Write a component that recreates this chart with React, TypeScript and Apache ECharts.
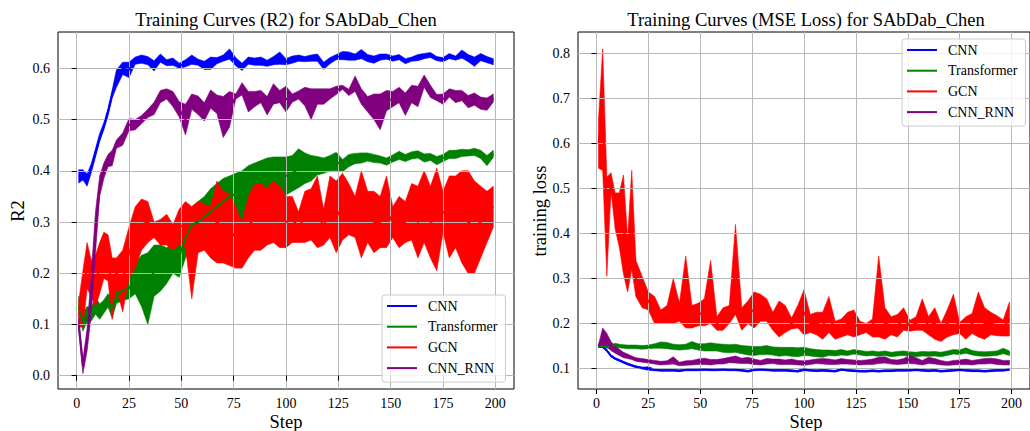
import React, { useEffect, useRef } from "react";
import * as echarts from "echarts";

// Training steps at which values were read
const steps = [1, 3, 5, 7, 9, 11, 13, 15, 17, 19,
  22, 25, 28, 31, 34, 37, 40, 43, 46, 49,
  52, 55, 58, 61, 64, 67, 70, 73, 76, 79,
  82, 85, 88, 91, 94, 97, 100, 103, 106, 109,
  112, 115, 118, 121, 124, 127, 130, 133, 136, 139,
  142, 145, 148, 151, 154, 157, 160, 163, 166, 169,
  172, 175, 178, 181, 184, 187, 190, 193, 196, 199];

const models = ["CNN", "Transformer", "GCN", "CNN_RNN"];
const colors = ["#0000ff", "#008000", "#ff0000", "#800080"];

const xTicks = [0, 25, 50, 75, 100, 125, 150, 175, 200];
const r2Ticks = [0, 0.1, 0.2, 0.3, 0.4, 0.5, 0.6];
const lossTicks = [0.1, 0.2, 0.3, 0.4, 0.5, 0.6, 0.7, 0.8];

// ---------- R2 (mean, std) ----------
const r2CnnMean = [0.389, 0.392, 0.382, 0.405, 0.435, 0.465, 0.487, 0.515, 0.55, 0.58,
  0.6, 0.597, 0.615, 0.618, 0.615, 0.605, 0.62, 0.611, 0.613, 0.605,
  0.61, 0.617, 0.612, 0.606, 0.61, 0.615, 0.62, 0.628, 0.613, 0.603,
  0.615, 0.613, 0.614, 0.61, 0.615, 0.62, 0.613, 0.617, 0.62, 0.618,
  0.62, 0.621, 0.605, 0.615, 0.622, 0.625, 0.624, 0.622, 0.628, 0.62,
  0.617, 0.622, 0.623, 0.619, 0.622, 0.614, 0.618, 0.621, 0.624, 0.626,
  0.619, 0.617, 0.624, 0.62, 0.628, 0.62, 0.613, 0.622, 0.617, 0.613];
const r2CnnStd = [0.013, 0.01, 0.012, 0.009, 0.008, 0.008, 0.007, 0.007, 0.008, 0.017,
  0.012, 0.015, 0.007, 0.008, 0.008, 0.01, 0.008, 0.006, 0.007, 0.005,
  0.007, 0.009, 0.006, 0.008, 0.012, 0.006, 0.006, 0.01, 0.008, 0.007,
  0.007, 0.007, 0.008, 0.006, 0.008, 0.012, 0.006, 0.007, 0.006, 0.005,
  0.006, 0.007, 0.007, 0.006, 0.005, 0.008, 0.008, 0.006, 0.009, 0.007,
  0.007, 0.006, 0.005, 0.005, 0.005, 0.005, 0.004, 0.006, 0.005, 0.005,
  0.004, 0.004, 0.005, 0.004, 0.008, 0.007, 0.009, 0.007, 0.006, 0.006];

const r2TransMean = [0.135, 0.105, 0.12, 0.12, 0.137, 0.125, 0.135, 0.147, 0.132, 0.157,
  0.167, 0.17, 0.19, 0.185, 0.17, 0.205, 0.21, 0.215, 0.23, 0.232,
  0.27, 0.295, 0.3, 0.31, 0.32, 0.33, 0.34, 0.35, 0.355, 0.33,
  0.37, 0.375, 0.38, 0.385, 0.39, 0.39, 0.39, 0.395, 0.405, 0.405,
  0.405, 0.41, 0.41, 0.415, 0.418, 0.41, 0.42, 0.424, 0.425, 0.427,
  0.424, 0.422, 0.418, 0.424, 0.43, 0.425, 0.43, 0.432, 0.425, 0.427,
  0.42, 0.425, 0.432, 0.432, 0.435, 0.435, 0.437, 0.432, 0.42, 0.433];
const r2TransStd = [0.02, 0.018, 0.015, 0.013, 0.017, 0.015, 0.013, 0.013, 0.02, 0.016,
  0.02, 0.02, 0.03, 0.05, 0.07, 0.05, 0.045, 0.035, 0.03, 0.04,
  0.04, 0.035, 0.04, 0.04, 0.045, 0.045, 0.045, 0.04, 0.04, 0.07,
  0.04, 0.04, 0.04, 0.04, 0.037, 0.037, 0.037, 0.035, 0.038, 0.03,
  0.025, 0.018, 0.015, 0.015, 0.018, 0.012, 0.012, 0.01, 0.01, 0.008,
  0.008, 0.007, 0.007, 0.007, 0.008, 0.007, 0.007, 0.007, 0.008, 0.007,
  0.008, 0.007, 0.008, 0.008, 0.007, 0.006, 0.007, 0.008, 0.01, 0.007];

const r2GcnMean = [0.12, 0.15, 0.215, 0.19, 0.185, 0.21, 0.235, 0.23, 0.17, 0.2,
  0.185, 0.24, 0.27, 0.295, 0.3, 0.285, 0.28, 0.285, 0.27, 0.29,
  0.295, 0.24, 0.29, 0.29, 0.28, 0.3, 0.29, 0.285, 0.27, 0.255,
  0.29, 0.31, 0.31, 0.31, 0.32, 0.31, 0.3, 0.305, 0.29, 0.31,
  0.315, 0.32, 0.29, 0.33, 0.31, 0.33, 0.325, 0.31, 0.315, 0.31,
  0.3, 0.3, 0.32, 0.3, 0.3, 0.3, 0.32, 0.3, 0.33, 0.3,
  0.305, 0.32, 0.31, 0.32, 0.31, 0.3, 0.29, 0.3, 0.31, 0.33];
const r2GcnStd = [0.025, 0.055, 0.045, 0.035, 0.05, 0.05, 0.045, 0.045, 0.06, 0.03,
  0.06, 0.05, 0.06, 0.05, 0.04, 0.015, 0.025, 0.03, 0.025, 0.035,
  0.045, 0.09, 0.05, 0.045, 0.05, 0.08, 0.07, 0.07, 0.06, 0.045,
  0.06, 0.065, 0.065, 0.055, 0.06, 0.06, 0.05, 0.045, 0.03, 0.05,
  0.05, 0.07, 0.035, 0.06, 0.07, 0.065, 0.05, 0.04, 0.085, 0.05,
  0.06, 0.05, 0.07, 0.03, 0.05, 0.04, 0.055, 0.07, 0.07, 0.07,
  0.1, 0.04, 0.08, 0.07, 0.09, 0.1, 0.09, 0.07, 0.05, 0.04];

const r2RnnMean = [0.1, 0.018, 0.07, 0.16, 0.28, 0.37, 0.4, 0.42, 0.425, 0.452,
  0.462, 0.49, 0.49, 0.5, 0.512, 0.522, 0.545, 0.55, 0.54, 0.52,
  0.5, 0.535, 0.528, 0.515, 0.54, 0.53, 0.505, 0.52, 0.545, 0.56,
  0.535, 0.54, 0.545, 0.527, 0.55, 0.545, 0.54, 0.542, 0.548, 0.545,
  0.53, 0.545, 0.545, 0.55, 0.557, 0.563, 0.553, 0.57, 0.545, 0.53,
  0.525, 0.515, 0.537, 0.54, 0.548, 0.53, 0.55, 0.545, 0.575, 0.555,
  0.543, 0.54, 0.552, 0.545, 0.547, 0.535, 0.54, 0.532, 0.53, 0.542];
const r2RnnStd = [0.012, 0.014, 0.022, 0.04, 0.04, 0.02, 0.015, 0.012, 0.015, 0.008,
  0.012, 0.012, 0.01, 0.008, 0.008, 0.012, 0.012, 0.01, 0.015, 0.015,
  0.03, 0.015, 0.018, 0.018, 0.018, 0.018, 0.04, 0.035, 0.005, 0.012,
  0.02, 0.015, 0.012, 0.018, 0.02, 0.012, 0.025, 0.008, 0.008, 0.018,
  0.03, 0.015, 0.015, 0.01, 0.008, 0.004, 0.006, 0.015, 0.015, 0.015,
  0.025, 0.035, 0.02, 0.015, 0.015, 0.022, 0.017, 0.02, 0.012, 0.012,
  0.006, 0.01, 0.008, 0.012, 0.01, 0.012, 0.012, 0.012, 0.012, 0.008];

// ---------- MSE loss (mean, std) ----------
const lossCnnMean = [0.149, 0.148, 0.14, 0.128, 0.122, 0.118, 0.114, 0.11, 0.107, 0.104,
  0.101, 0.1, 0.097, 0.096, 0.096, 0.096, 0.095, 0.097, 0.097, 0.097,
  0.098, 0.097, 0.097, 0.098, 0.097, 0.097, 0.096, 0.094, 0.097, 0.098,
  0.097, 0.096, 0.096, 0.096, 0.095, 0.094, 0.098, 0.096, 0.095, 0.096,
  0.095, 0.094, 0.098, 0.096, 0.095, 0.094, 0.094, 0.095, 0.094, 0.095,
  0.095, 0.096, 0.096, 0.096, 0.097, 0.096, 0.095, 0.096, 0.094, 0.095,
  0.096, 0.097, 0.096, 0.095, 0.095, 0.094, 0.095, 0.096, 0.096, 0.098];
const lossCnnStd = [0.001, 0.001, 0.002, 0.002, 0.002, 0.002, 0.002, 0.002, 0.002, 0.002,
  0.002, 0.004, 0.002, 0.002, 0.002, 0.002, 0.002, 0.002, 0.002, 0.002,
  0.002, 0.002, 0.002, 0.002, 0.002, 0.002, 0.002, 0.002, 0.002, 0.002,
  0.002, 0.002, 0.002, 0.002, 0.002, 0.002, 0.003, 0.002, 0.002, 0.002,
  0.002, 0.002, 0.002, 0.002, 0.002, 0.002, 0.002, 0.002, 0.002, 0.002,
  0.002, 0.002, 0.002, 0.002, 0.002, 0.002, 0.002, 0.002, 0.002, 0.002,
  0.002, 0.002, 0.002, 0.002, 0.002, 0.002, 0.002, 0.002, 0.002, 0.002];

const lossTransMean = [0.15, 0.149, 0.148, 0.149, 0.152, 0.15, 0.149, 0.148, 0.148, 0.148,
  0.147, 0.148, 0.15, 0.152, 0.151, 0.148, 0.147, 0.148, 0.152, 0.148,
  0.147, 0.148, 0.147, 0.145, 0.144, 0.145, 0.142, 0.14, 0.139, 0.14,
  0.141, 0.139, 0.137, 0.138, 0.137, 0.136, 0.138, 0.136, 0.134, 0.133,
  0.135, 0.134, 0.136, 0.134, 0.137, 0.135, 0.133, 0.134, 0.132, 0.134,
  0.131, 0.133, 0.134, 0.132, 0.131, 0.133, 0.132, 0.133, 0.131, 0.134,
  0.137, 0.136, 0.14, 0.135, 0.133, 0.132, 0.133, 0.134, 0.139, 0.134];
const lossTransStd = [0.002, 0.002, 0.003, 0.003, 0.004, 0.004, 0.004, 0.004, 0.004, 0.004,
  0.004, 0.004, 0.005, 0.007, 0.007, 0.006, 0.006, 0.006, 0.008, 0.007,
  0.008, 0.009, 0.008, 0.009, 0.009, 0.009, 0.009, 0.01, 0.01, 0.009,
  0.01, 0.009, 0.01, 0.009, 0.01, 0.01, 0.009, 0.008, 0.008, 0.008,
  0.006, 0.006, 0.006, 0.005, 0.005, 0.005, 0.005, 0.005, 0.005, 0.005,
  0.005, 0.005, 0.005, 0.005, 0.005, 0.005, 0.005, 0.005, 0.005, 0.005,
  0.005, 0.005, 0.006, 0.005, 0.005, 0.005, 0.005, 0.005, 0.006, 0.005];

const lossGcnMean = [0.6, 0.675, 0.415, 0.515, 0.45, 0.43, 0.42, 0.33, 0.43, 0.3,
  0.27, 0.25, 0.23, 0.215, 0.22, 0.25, 0.225, 0.27, 0.215, 0.22,
  0.225, 0.27, 0.2, 0.21, 0.22, 0.32, 0.21, 0.225, 0.23, 0.235,
  0.23, 0.205, 0.21, 0.21, 0.2, 0.215, 0.225, 0.2, 0.2, 0.195,
  0.22, 0.185, 0.19, 0.2, 0.2, 0.19, 0.19, 0.19, 0.26, 0.2,
  0.195, 0.195, 0.21, 0.195, 0.2, 0.22, 0.195, 0.2, 0.18, 0.2,
  0.22, 0.19, 0.19, 0.2, 0.22, 0.2, 0.2, 0.195, 0.19, 0.21];
const lossGcnStd = [0.055, 0.135, 0.11, 0.02, 0.04, 0.06, 0.11, 0.06, 0.11, 0.04,
  0.035, 0.02, 0.03, 0.015, 0.02, 0.05, 0.02, 0.08, 0.025, 0.025,
  0.03, 0.07, 0.015, 0.025, 0.02, 0.1, 0.025, 0.025, 0.04, 0.03,
  0.025, 0.02, 0.04, 0.03, 0.012, 0.025, 0.05, 0.02, 0.025, 0.03,
  0.04, 0.02, 0.02, 0.025, 0.03, 0.015, 0.01, 0.02, 0.09, 0.035,
  0.02, 0.025, 0.025, 0.012, 0.015, 0.035, 0.02, 0.035, 0.02, 0.03,
  0.045, 0.012, 0.025, 0.022, 0.05, 0.035, 0.025, 0.022, 0.018, 0.038];

const lossRnnMean = [0.15, 0.17, 0.163, 0.15, 0.142, 0.136, 0.13, 0.127, 0.124, 0.12,
  0.118, 0.116, 0.114, 0.112, 0.113, 0.118, 0.11, 0.112, 0.113, 0.115,
  0.116, 0.114, 0.115, 0.116, 0.119, 0.12, 0.117, 0.118, 0.115, 0.113,
  0.116, 0.116, 0.115, 0.114, 0.115, 0.113, 0.112, 0.114, 0.116, 0.116,
  0.115, 0.114, 0.116, 0.115, 0.114, 0.113, 0.114, 0.115, 0.118, 0.119,
  0.115, 0.114, 0.116, 0.12, 0.117, 0.113, 0.118, 0.116, 0.113, 0.111,
  0.113, 0.114, 0.115, 0.113, 0.115, 0.116, 0.117, 0.115, 0.113, 0.113];
const lossRnnStd = [0.003, 0.02, 0.015, 0.01, 0.008, 0.007, 0.006, 0.005, 0.004, 0.004,
  0.004, 0.004, 0.004, 0.004, 0.004, 0.008, 0.004, 0.005, 0.005, 0.006,
  0.007, 0.006, 0.005, 0.006, 0.006, 0.008, 0.006, 0.007, 0.006, 0.005,
  0.006, 0.005, 0.006, 0.005, 0.006, 0.005, 0.005, 0.005, 0.005, 0.006,
  0.006, 0.005, 0.006, 0.005, 0.005, 0.005, 0.005, 0.006, 0.007, 0.007,
  0.005, 0.005, 0.006, 0.009, 0.007, 0.005, 0.007, 0.006, 0.005, 0.004,
  0.005, 0.005, 0.006, 0.005, 0.005, 0.006, 0.006, 0.006, 0.005, 0.005];

const r2Data = [
  [r2CnnMean, r2CnnStd],
  [r2TransMean, r2TransStd],
  [r2GcnMean, r2GcnStd],
  [r2RnnMean, r2RnnStd],
];
const lossData = [
  [lossCnnMean, lossCnnStd],
  [lossTransMean, lossTransStd],
  [lossGcnMean, lossGcnStd],
  [lossRnnMean, lossRnnStd],
];

const FONT = "Liberation Serif";

function buildSeries(panel: number, data: number[][][]) {
  const out: any[] = [];
  // bands (fill_between: mean ± std), drawn below the grid lines
  data.forEach(([mean, std], k) => {
    const rows = steps.map((s, i) => [s, mean[i] - std[i], mean[i] + std[i]]);
    out.push({
      type: "custom",
      name: `${models[k]} band`,
      xAxisIndex: panel,
      yAxisIndex: panel,
      data: rows,
      encode: { x: 0, y: [1, 2] },
      silent: true,
      z: 1,
      clip: true,
      renderItem: (params: any, api: any) => {
        if (params.dataIndex !== 0) return null;
        const upper = rows.map((r) => api.coord([r[0], r[2]]));
        const lower = rows.map((r) => api.coord([r[0], r[1]])).reverse();
        return {
          type: "polygon",
          shape: { points: upper.concat(lower) },
          style: { fill: colors[k], stroke: colors[k], lineWidth: 0.6 },
        };
      },
    });
  });
  // mean lines on top
  data.forEach(([mean], k) => {
    out.push({
      type: "line",
      name: models[k],
      xAxisIndex: panel,
      yAxisIndex: panel,
      data: steps.map((s, i) => [s, mean[i]]),
      symbol: "none",
      showSymbol: false,
      color: colors[k],
      itemStyle: { color: colors[k] },
      lineStyle: { color: colors[k], width: 2 },
      silent: true,
      z: 3,
    });
  });
  return out;
}

function xAxisFor(panel: number) {
  return {
    type: "value",
    gridIndex: panel,
    min: -8.9,
    max: 208.9,
    minInterval: 25,
    maxInterval: 25,
    z: 2,
    axisLine: { show: false },
    axisTick: {
      show: true,
      inside: false,
      length: 5,
      lineStyle: { color: "#000", width: 1 },
      customValues: xTicks,
    },
    axisLabel: {
      customValues: xTicks,
      color: "#000",
      fontFamily: FONT,
      fontSize: 14,
      margin: 7,
    },
    splitLine: { show: true, lineStyle: { color: "#b8b8b8", width: 1 } },
  };
}

function yAxisFor(panel: number, min: number, max: number, ticks: number[]) {
  return {
    type: "value",
    gridIndex: panel,
    min,
    max,
    minInterval: 0.1,
    maxInterval: 0.1,
    z: 2,
    axisLine: { show: false },
    axisTick: {
      show: true,
      inside: false,
      length: 5,
      lineStyle: { color: "#000", width: 1 },
      customValues: ticks,
    },
    axisLabel: {
      customValues: ticks,
      color: "#000",
      fontFamily: FONT,
      fontSize: 14,
      margin: 8,
      formatter: (v: number) => v.toFixed(1),
    },
    splitLine: { show: true, lineStyle: { color: "#b8b8b8", width: 1 } },
  };
}

function legendAt(left: number, top: number) {
  return {
    data: models.map((name) => ({
      name,
      textStyle: { fontFamily: FONT, fontSize: 14, color: "#000" },
    })),
    orient: "vertical",
    left,
    top,
    icon: "rect",
    itemWidth: 30,
    itemHeight: 2,
    itemGap: 4.7,
    padding: [3, 8, 6, 5],
    backgroundColor: "rgba(255,255,255,0.8)",
    borderColor: "#cccccc",
    borderWidth: 1,
    borderRadius: 3,
    selectedMode: false,
    textStyle: {
      fontFamily: FONT,
      fontSize: 14,
      color: "#000",
      lineHeight: 16,
      padding: [0, 0, 0, 6],
    },
  };
}

function textEl(text: string, x: number, y: number, size: number, rotate = false) {
  return {
    type: "text",
    x,
    y,
    rotation: rotate ? Math.PI / 2 : 0,
    style: {
      text,
      fill: "#000",
      fontFamily: FONT,
      fontSize: size,
      align: "center",
      verticalAlign: "middle",
    },
    z: 10,
  };
}

export default function App() {
  const ref = useRef<HTMLDivElement>(null);

  useEffect(() => {
    if (!ref.current) return;
    const chart = echarts.init(ref.current, undefined, { renderer: "svg" });
    chart.setOption({
      animation: false,
      backgroundColor: "#ffffff",
      textStyle: { fontFamily: FONT },
      grid: [
        { left: 58, top: 32, width: 456, height: 357, show: true, borderColor: "#000", borderWidth: 1, backgroundColor: "transparent" },
        { left: 578, top: 32, width: 454.6, height: 357, show: true, borderColor: "#000", borderWidth: 1, backgroundColor: "transparent" },
      ],
      xAxis: [xAxisFor(0), xAxisFor(1)],
      yAxis: [
        yAxisFor(0, -0.026, 0.671, r2Ticks),
        yAxisFor(1, 0.0545, 0.8475, lossTicks),
      ],
      legend: [legendAt(382, 295), legendAt(902, 39)],
      series: [...buildSeries(0, r2Data), ...buildSeries(1, lossData)],
      graphic: [
        textEl("Training Curves (R2) for SAbDab_Chen", 286, 20, 18.5),
        textEl("Training Curves (MSE Loss) for SAbDab_Chen", 806, 20, 18.5),
        textEl("Step", 286, 422, 18.5),
        textEl("Step", 806, 422, 18.5),
        textEl("R2", 18, 211, 18.5, true),
        textEl("training loss", 540, 211, 18.5, true),
      ],
    });
    return () => chart.dispose();
  }, []);

  return (
    <div
      ref={ref}
      style={{ position: "absolute", left: 0, top: 0, width: 1030, height: 431 }}
    />
  );
}
